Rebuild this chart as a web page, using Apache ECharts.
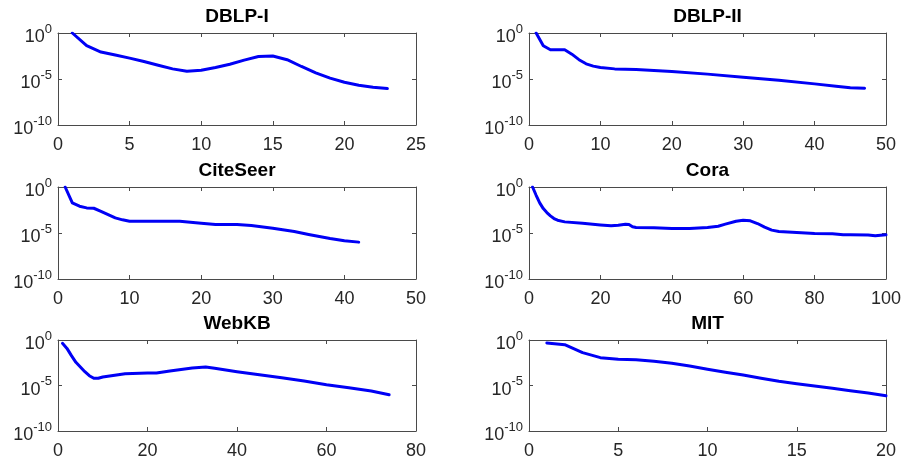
<!DOCTYPE html>
<html>
<head>
<meta charset="utf-8">
<script src="https://cdn.jsdelivr.net/npm/echarts@6/dist/echarts.min.js"></script>
<style>
  html, body { margin: 0; padding: 0; background: #fff; }
  #chart { width: 904px; height: 462px; }
</style>
</head>
<body>
<div id="chart"></div>
<script>
// Residual per iteration for each dataset (log scale)
const dblp1Iter = [1, 2, 3, 4, 5, 6, 7, 8, 9, 10, 11, 12, 13, 14, 15, 16, 17, 18, 19, 20, 21, 22, 23];
const dblp1Res = [1, 4.17e-2, 8.51e-3, 3.98e-3, 1.86e-3, 7.94e-4, 3.16e-4, 1.26e-4, 7.08e-5, 9.12e-5,
  1.78e-4, 3.98e-4, 1.12e-3, 2.82e-3, 3.16e-3, 1.26e-3, 2.29e-4, 4.68e-5, 1.26e-5, 4.47e-6,
  2.14e-6, 1.26e-6, 9.12e-7];

const dblp2Iter = [1, 2, 3, 4, 5, 6, 7, 8, 9, 10, 12, 15, 20, 25, 30, 35, 40, 43, 45, 47];
const dblp2Res = [1, 4.17e-2, 1.51e-2, 1.51e-2, 1.51e-2, 5.01e-3, 1.26e-3, 4.47e-4, 2.51e-4, 1.78e-4,
  1.26e-4, 1.10e-4, 6.61e-5, 3.39e-5, 1.58e-5, 7.41e-6, 2.95e-6, 1.66e-6, 1.10e-6, 1.0e-6];

const citeIter = [1, 2, 3, 4, 5, 6, 7, 8, 9, 10, 15, 17, 20, 22, 25, 27, 30, 33, 35, 38, 40, 42];
const citeRes = [1, 1.86e-2, 8.13e-3, 5.37e-3, 4.90e-3, 2.29e-3, 1.0e-3, 4.37e-4, 2.69e-4, 1.91e-4,
  1.91e-4, 1.91e-4, 1.15e-4, 8.32e-5, 8.32e-5, 6.46e-5, 3.31e-5, 1.45e-5, 6.92e-6, 2.51e-6,
  1.41e-6, 1.02e-6];

const coraIter = [1, 2, 3, 4, 5, 6, 7, 8, 10, 15, 20, 23, 25, 27, 28, 29, 30, 35, 40, 45, 50, 53, 55,
  58, 60, 62, 64, 66, 68, 70, 75, 80, 85, 88, 90, 95, 97, 100];
const coraRes = [1, 0.126, 1.86e-2, 4.47e-3, 1.66e-3, 7.24e-4, 3.72e-4, 2.45e-4, 1.62e-4, 1.15e-4,
  7.59e-5, 6.03e-5, 7.08e-5, 9.12e-5, 8.32e-5, 4.68e-5, 3.98e-5, 3.63e-5, 3.09e-5, 3.09e-5,
  3.98e-5, 5.50e-5, 9.12e-5, 1.91e-4, 2.45e-4, 2.09e-4, 1.07e-4, 4.27e-5, 2.04e-5, 1.45e-5,
  1.12e-5, 8.91e-6, 8.13e-6, 6.31e-6, 6.31e-6, 5.89e-6, 4.90e-6, 6.31e-6];

const webkbIter = [1, 2, 3, 4, 5, 6, 7, 8, 9, 10, 15, 20, 22, 25, 30, 33, 35, 40, 45, 50, 55, 60, 65, 70, 74];
const webkbRes = [0.427, 0.120, 1.91e-2, 3.55e-3, 1.07e-3, 3.31e-4, 1.20e-4, 6.17e-5, 6.17e-5, 8.51e-5,
  2.0e-4, 2.34e-4, 2.34e-4, 3.89e-4, 8.32e-4, 1.07e-3, 7.76e-4, 3.31e-4, 1.55e-4, 7.24e-5,
  3.09e-5, 1.23e-5, 5.75e-6, 2.51e-6, 9.77e-7];

const mitIter = [1, 2, 3, 4, 5, 6, 7, 8, 9, 10, 11, 12, 13, 14, 15, 16, 17, 18, 19, 20];
const mitRes = [0.468, 0.309, 4.07e-2, 1.15e-2, 7.59e-3, 6.92e-3, 4.57e-3, 2.75e-3, 1.38e-3, 6.03e-4,
  2.82e-4, 1.41e-4, 6.17e-5, 2.88e-5, 1.58e-5, 8.91e-6, 4.90e-6, 2.69e-6, 1.51e-6, 7.59e-7];

const panelTitles = ['DBLP-I', 'DBLP-II', 'CiteSeer', 'Cora', 'WebKB', 'MIT'];
const panelIters = [dblp1Iter, dblp2Iter, citeIter, coraIter, webkbIter, mitIter];
const panelRes = [dblp1Res, dblp2Res, citeRes, coraRes, webkbRes, mitRes];
const xMax = [25, 50, 50, 100, 80, 20];
const xStep = [5, 10, 10, 20, 20, 5];
const yMin = 1e-10, yMax = 1, yStepDecades = 5;

// Panel boxes in a 3x2 layout
const boxes = [
  { left: 58, top: 33, width: 358, height: 92 },
  { left: 529, top: 33, width: 357, height: 92 },
  { left: 58, top: 187, width: 358, height: 92 },
  { left: 529, top: 187, width: 357, height: 92 },
  { left: 58, top: 340, width: 358, height: 91 },
  { left: 529, top: 340, width: 357, height: 91 }
];

const FONT = '"Liberation Sans", Arial, Helvetica, sans-serif';
const axisColor = '#4a4a4a';
const labelColor = '#262626';

const grid = [], xAxis = [], yAxis = [], series = [], graphic = [];

boxes.forEach((b, i) => {
  grid.push({ left: b.left, top: b.top, width: b.width, height: b.height, containLabel: false });

  const lineStyle = { color: axisColor, width: 1 };
  const baseX = {
    type: 'value', gridIndex: i, min: 0, max: xMax[i], interval: xStep[i],
    axisLine: { show: true, onZero: false, lineStyle },
    axisTick: { show: true, inside: true, length: 4, lineStyle },
    splitLine: { show: false }
  };
  xAxis.push(Object.assign({}, baseX, {
    position: 'bottom',
    axisLabel: { show: true, margin: 11, color: labelColor, fontFamily: FONT, fontSize: 18 }
  }));
  xAxis.push(Object.assign({}, baseX, { position: 'top', axisLabel: { show: false } }));

  const baseY = {
    type: 'log', logBase: 10, gridIndex: i, min: yMin, max: yMax, interval: yStepDecades,
    axisLine: { show: true, onZero: false, lineStyle },
    axisTick: { show: true, inside: true, length: 4, lineStyle },
    minorTick: { show: false },
    splitLine: { show: false }
  };
  // "10" sits below the tick, the exponent above it, so the pair is centred on the tick
  yAxis.push(Object.assign({}, baseY, {
    position: 'left',
    axisLabel: {
      show: true, margin: 6,
      formatter: v => '{b|10}{s|' + Math.round(Math.log10(v)) + '}',
      rich: {
        b: { fontFamily: FONT, fontSize: 18, lineHeight: 18, color: labelColor, verticalAlign: 'middle', padding: [9, 0, 0, 0] },
        s: { fontFamily: FONT, fontSize: 13, lineHeight: 13, color: labelColor, verticalAlign: 'middle', padding: [3, 0, 11, 0] }
      }
    }
  }));
  yAxis.push(Object.assign({}, baseY, { position: 'right', axisLabel: { show: false } }));

  series.push({
    type: 'line',
    name: panelTitles[i],
    xAxisIndex: 2 * i,
    yAxisIndex: 2 * i,
    data: panelIters[i].map((x, k) => [x, panelRes[i][k]]),
    symbol: 'none',
    lineStyle: { color: '#0000f5', width: 3, join: 'round', cap: 'round' },
    clip: true,
    silent: true,
    animation: false
  });

  graphic.push({
    type: 'text',
    x: b.left + b.width / 2,
    y: b.top - 16,
    style: {
      text: panelTitles[i],
      textAlign: 'center',
      textVerticalAlign: 'middle',
      font: 'bold 19px ' + FONT,
      fill: '#000'
    }
  });
});

const chart = echarts.init(document.getElementById('chart'), null, { renderer: 'canvas' });
chart.setOption({
  backgroundColor: '#fff',
  animation: false,
  grid, xAxis, yAxis, series, graphic
});
</script>
</body>
</html>
